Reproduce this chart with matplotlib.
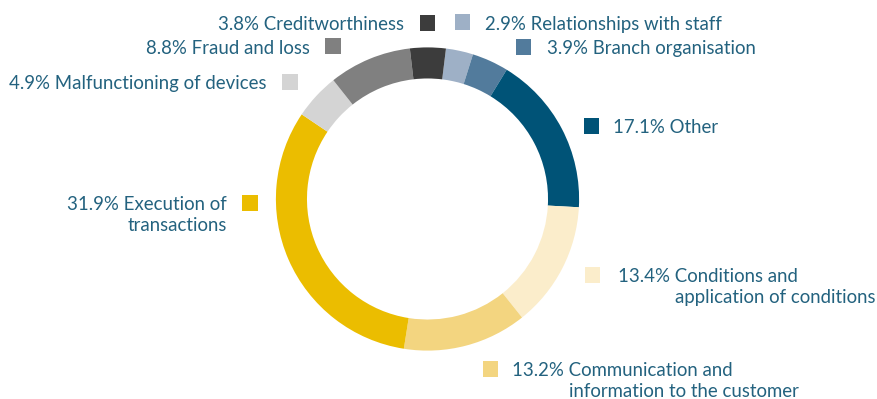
import matplotlib
matplotlib.use('Agg')
import matplotlib.pyplot as plt
from matplotlib.patches import Rectangle

# Datos del grafico (sentido horario desde arriba)
categorias = ['Relationships with staff', 'Branch organisation', 'Other',
              'Conditions and\napplication of conditions',
              'Communication and\ninformation to the customer',
              'Execution of\ntransactions', 'Malfunctioning of devices',
              'Fraud and loss', 'Creditworthiness']
porcentajes = [2.9, 3.9, 17.1, 13.4, 13.2, 31.9, 4.9, 8.8, 3.8]
colores = ['#9eb0c6', '#527b9c', '#005377', '#fbedcb', '#f3d580',
           '#ebbd00', '#d4d4d4', '#808080', '#3c3c3c']

W, H = 878, 399
COLOR_TEXTO = '#23627f'
FUENTE = 'Lato'
TAM = 13.4

# Posiciones de las etiquetas en pixeles: (lado, x_cuadro, y_cuadro, x_texto, y_base)
posiciones = {
    'Relationships with staff': ('der', 455, 14.5, 485, 30),
    'Branch organisation': ('der', 516, 39, 547, 54),
    'Other': ('der', 584, 118.5, 613, 133),
    'Conditions and\napplication of conditions': ('der', 585, 267, 618, 282),
    'Communication and\ninformation to the customer': ('der', 483, 361, 512, 376),
    'Execution of\ntransactions': ('izq', 242, 195, 227, 210),
    'Malfunctioning of devices': ('izq', 282, 74.5, 267, 89.5),
    'Fraud and loss': ('izq', 325, 38, 309.5, 53.5),
    'Creditworthiness': ('izq', 420, 15, 404.5, 30.5),
}

def fx(x):
    return x / W

def fy(y):
    return 1 - y / H

fig = plt.figure(figsize=(W / 100, H / 100), dpi=100)
fig.patch.set_facecolor('white')

# Anillo
cx, cy, R = 427.5, 199, 151.6
ax = fig.add_axes([fx(cx - R), fy(cy + R), 2 * R / W, 2 * R / H])
ax.pie(porcentajes, colors=colores, startangle=83, counterclock=False,
       radius=1, wedgeprops=dict(width=0.205, edgecolor='none', linewidth=0))
ax.set_xlim(-1, 1)
ax.set_ylim(-1, 1)
ax.set_aspect('equal')
ax.axis('off')

renderer = fig.canvas.get_renderer()

def ancho(texto):
    t = fig.text(0, 0, texto, fontsize=TAM, family=FUENTE)
    w = t.get_window_extent(renderer=renderer).width
    t.remove()
    return w

lado_sq = 15.5
salto = 21
for cat, pct, col in zip(categorias, porcentajes, colores):
    lado, xs, ys, xt, yb = posiciones[cat]
    fig.patches.append(Rectangle((fx(xs), fy(ys + lado_sq)), lado_sq / W, lado_sq / H,
                                 transform=fig.transFigure, facecolor=col,
                                 edgecolor='none', figure=fig))
    lineas = cat.split('\n')
    primera = f'{pct:.1f}% {lineas[0]}'
    if lado == 'izq':
        for i, linea in enumerate([primera] + lineas[1:]):
            fig.text(fx(xt), fy(yb + i * salto), linea, ha='right', va='baseline',
                     fontsize=TAM, family=FUENTE, color=COLOR_TEXTO)
    else:
        fig.text(fx(xt), fy(yb), primera, ha='left', va='baseline',
                 fontsize=TAM, family=FUENTE, color=COLOR_TEXTO)
        if len(lineas) > 1:
            desp = ancho(primera) - ancho(lineas[0])
            for i, linea in enumerate(lineas[1:], start=1):
                fig.text(fx(xt + desp), fy(yb + i * salto), linea, ha='left', va='baseline',
                         fontsize=TAM, family=FUENTE, color=COLOR_TEXTO)

fig.savefig('out.png', dpi=100, facecolor='white')
